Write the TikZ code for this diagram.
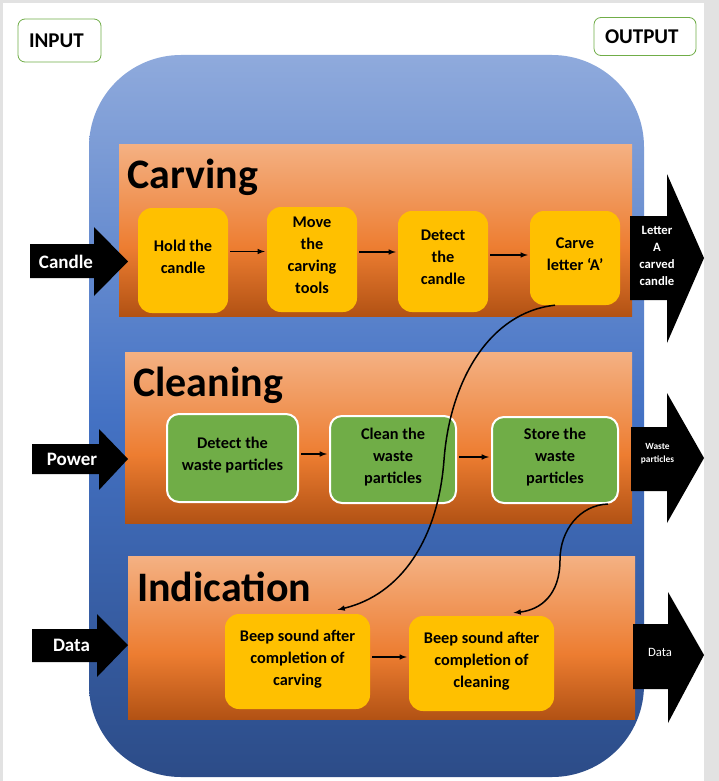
\documentclass[tikz,border=0pt]{standalone}
\usepackage{fontspec}
\setmainfont{Carlito}
\usetikzlibrary{calc}
\definecolor{bluetop}{RGB}{143,170,220}
\definecolor{bluemid}{RGB}{68,114,196}
\definecolor{bluebot}{RGB}{44,76,136}
\definecolor{ortop}{RGB}{244,177,131}
\definecolor{ormid}{RGB}{237,125,49}
\definecolor{orbot}{RGB}{178,82,20}
\pgfdeclareverticalshading{bodyshade}{100bp}{color(0bp)=(bluebot); color(25bp)=(bluebot); color(50bp)=(bluemid); color(75bp)=(bluetop); color(100bp)=(bluetop)}
\pgfdeclareverticalshading{panelshade}{100bp}{color(0bp)=(orbot); color(25bp)=(orbot); color(45bp)=(ormid); color(75bp)=(ortop); color(100bp)=(ortop)}
\begin{document}
\begin{tikzpicture}[
            >=latex,
            x=1pt, y=-1pt,
            font=\bfseries,
            stepyellow/.style={rectangle, rounded corners=14pt, fill=boxyellow, align=center, inner sep=2pt, text depth=8pt, font=\fontsize{16.3}{22}\selectfont\bfseries},
            stepgreen/.style={rectangle, rounded corners=12pt, fill=boxgreen, draw=white, line width=2pt, align=center, inner sep=2pt, text depth=8pt, font=\fontsize{16.3}{22}\selectfont\bfseries},
            flow/.style={->, line width=1.5pt, shorten <=2pt, shorten >=2pt},
            iobox/.style={rectangle, rounded corners=7pt, draw=boxgreen, line width=0.8pt, align=left, inner xsep=11pt, font=\fontsize{21}{24}\selectfont\bfseries},
            paneltitle/.style={anchor=base west, inner sep=0pt, font=\fontsize{42}{46}\selectfont\bfseries},
            arrowtext/.style={text=white, align=center, inner sep=0pt}
        ]
		\definecolor{boxyellow}{RGB}{255,192,0}
		\definecolor{boxgreen}{RGB}{112,173,71}
		\definecolor{pagegray}{RGB}{226,226,226}
		
		\useasboundingbox (0,0) rectangle (719,781);
		\fill[pagegray] (0,0) rectangle (719,781);
		\fill[white] (3,3) rectangle (704,781);
		
		%Labels
		\node[iobox, text width=61pt, minimum height=43pt] (input) at (59.5,40.5) {INPUT};
		\node[iobox, text width=80pt, minimum height=38pt] (output) at (645,36.5) {OUTPUT};
		
		%System
		\shade[shading=bodyshade, rounded corners=92pt] (89,55) rectangle (644,777);
		\shade[shading=panelshade] (119,144) rectangle (632,316);
		\shade[shading=panelshade] (125,352) rectangle (632,523);
		\shade[shading=panelshade] (128,556) rectangle (635,719);
		\node[paneltitle] (carving) at (127,188) {Carving};
		\node[paneltitle] (cleaning) at (133,396) {Cleaning};
		\node[paneltitle] (indication) at (137,601) {Indication};
		
		%Carving
		\node[stepyellow, minimum width=90pt, minimum height=105pt] (hold) at (183,260.5) {Hold the\\candle};
		\node[stepyellow, minimum width=90pt, minimum height=105pt] (move) at (312,259.5) {Move\\the\\carving\\tools};
		\node[stepyellow, minimum width=90pt, minimum height=101pt] (detect) at (443,261.5) {Detect\\the\\candle};
		\node[stepyellow, minimum width=90pt, minimum height=94pt] (carve) at (575,258) {Carve\\letter ‘A’};
		\draw[flow] ([yshift=9pt]hold.east) -- ([yshift=9pt]hold.east -| move.west);
		\draw[flow] ([yshift=7.5pt]move.east) -- ([yshift=7.5pt]move.east -| detect.west);
		\draw[flow] ([yshift=6.5pt]detect.east) -- ([yshift=6.5pt]detect.east -| carve.west);
		
		%Cleaning
		\node[stepgreen, minimum width=131pt, minimum height=88pt] (spot) at (232.5,458) {Detect the\\waste particles};
		\node[stepgreen, minimum width=126pt, minimum height=87pt] (clean) at (393,459.5) {Clean the\\waste\\particles};
		\node[stepgreen, minimum width=126pt, minimum height=86pt] (store) at (555,460) {Store the\\waste\\particles};
		\draw[flow] ([yshift=4pt]spot.east) -- ([yshift=4pt]spot.east -| clean.west);
		\draw[flow] ([yshift=2.5pt]clean.east) -- ([yshift=2.5pt]clean.east -| store.west);
		
		%Indication
		\node[stepyellow, minimum width=145pt, minimum height=95pt] (beepcarve) at (297.5,661.5) {Beep sound after\\completion of\\carving};
		\node[stepyellow, minimum width=145pt, minimum height=95pt] (beepclean) at (481.5,663.5) {Beep sound after\\completion of\\cleaning};
		\draw[flow] ([yshift=4.5pt]beepcarve.east) -- ([yshift=4.5pt]beepcarve.east -| beepclean.west);
		
		%Inputs
		\fill (30,244) -- (94,244) -- (94,227) -- (128,261.5) -- (94,296) -- (94,278) -- (30,278) -- cycle;
		\node[arrowtext, font=\fontsize{19}{22}\selectfont\bfseries] (candle) at (66,262) {Candle};
		\fill (32,444) -- (99,444) -- (99,429) -- (128,459) -- (99,490) -- (99,474) -- (32,474) -- cycle;
		\node[arrowtext, font=\fontsize{19}{22}\selectfont\bfseries] (power) at (72,459) {Power};
		\fill (32,629) -- (97,629) -- (97,614) -- (128,645) -- (97,677) -- (97,662) -- (32,662) -- cycle;
		\node[arrowtext, font=\fontsize{19}{22}\selectfont\bfseries] (datain) at (71.5,645) {Data};
		
		%Outputs
		\fill (630,216) -- (667,216) -- (667,174) -- (704,258) -- (667,343) -- (667,300) -- (630,300) -- cycle;
		\node[arrowtext, font=\fontsize{12.7}{17}\selectfont\bfseries] (carved) at (657,255.5) {Letter\\A\\carved\\candle};
		\fill (631,427) -- (667,427) -- (667,393) -- (704,458) -- (667,523) -- (667,491) -- (631,491) -- cycle;
		\node[arrowtext, font=\fontsize{9.4}{13}\selectfont\bfseries] (waste) at (657.5,453.5) {Waste\\particles};
		\fill (633,624) -- (668,624) -- (668,592) -- (704,655) -- (668,723) -- (668,689) -- (633,689) -- cycle;
		\node[arrowtext, font=\fontsize{12.7}{17}\selectfont\mdseries] (dataout) at (660,652) {Data};
		
		%Links
		\draw[->, line width=1.5pt] ([xshift=-20pt]carve.south) .. controls +(-65,7) and +(6,-80) .. (444,460)
		    .. controls +(-6,80) and +(63,-15) .. ([xshift=40pt,yshift=4pt]beepcarve.north);
		\draw[->, line width=1.5pt] ([xshift=53pt]store.south) .. controls +(-28,1) and +(0,-30) .. (560,560)
		    .. controls +(0,35) and +(27,-3) .. ([xshift=32pt,yshift=3pt]beepclean.north);
    \end{tikzpicture}
\end{document}
